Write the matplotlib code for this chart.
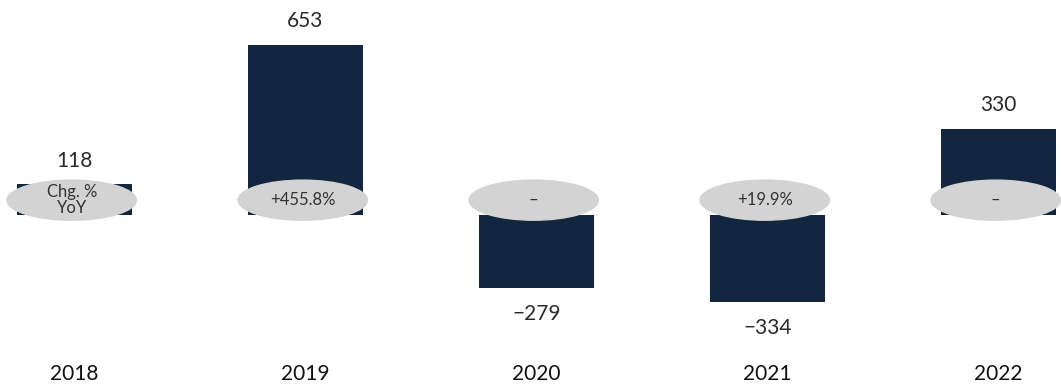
import matplotlib
matplotlib.use("Agg")
import matplotlib.pyplot as plt
from matplotlib.patches import Ellipse

years = ["2018", "2019", "2020", "2021", "2022"]
values = [118, 653, -279, -334, 330]
yoy_labels = ["Chg. %\nYoY", "+455.8%", "\u2013", "+19.9%", "\u2013"]

plt.rcParams["font.family"] = ["Lato", "DejaVu Sans"]

fig = plt.figure(figsize=(10.61, 3.88), dpi=100)
ax = fig.add_axes([0, 0, 1, 1])

x = list(range(len(years)))
ax.bar(x, values, width=0.5, color="#12263f", zorder=1)

# value labels above / below bars
for xi, v in zip(x, values):
    off = 17 if v > 0 else -19
    ax.annotate(str(v).replace("-", "\u2212"), (xi, v), xytext=(0, off),
                textcoords="offset points", ha="center", va="center",
                fontsize=15, color="#2a2a2a")

# grey ellipses with YoY change
for xi, lab in zip(x, yoy_labels):
    ax.add_patch(Ellipse((xi - 0.012, 57), 0.56, 154, color="#d3d3d3", zorder=2))
    ax.text(xi - 0.012, 57, lab, ha="center", va="center", fontsize=12,
            color="#333333", zorder=3, linespacing=1.05)

# year labels
for xi, yr in zip(x, years):
    ax.text(xi, -611, yr, ha="center", va="center", fontsize=15, color="#111111")

ax.set_xlim(-0.3225, 4.2706)
ax.set_ylim(-664.6, 826)
ax.axis("off")

fig.savefig("out.png", dpi=100)
